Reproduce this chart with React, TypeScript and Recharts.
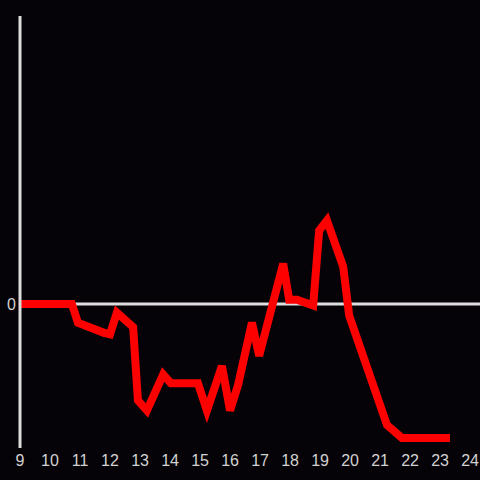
import { LineChart, Line, XAxis, YAxis, ReferenceLine } from "recharts"

// hour of day and the series value
const hours = [
  9.0, 10.73, 10.93, 11.8, 12.0, 12.23, 12.77, 12.93, 13.23, 13.77, 14.03, 14.93, 15.23, 15.73, 16.0,
  16.27, 16.73, 16.97, 17.77, 17.97, 18.23, 18.77, 18.97, 19.23, 19.77, 19.97, 21.23, 21.73, 23.33,
]
const values = [
  0, 0, -13, -20, -21, -6, -16, -67, -74, -49, -55, -55, -74, -43, -74,
  -56, -13, -36, 28, 3, 3, -1, 51, 58, 26, -8, -84, -93, -93,
]
const xTicks = [9, 10, 11, 12, 13, 14, 15, 16, 17, 18, 19, 20, 21, 22, 23, 24]
const yTicks = [0]

const data = hours.map((h, i) => ({ hour: h, value: values[i] }))

const axisColor = "#dedede"
const labelColor = "#d2d2d2"

export default function App() {
  return (
    <div style={{ position: "absolute", left: 0, top: 0, width: 480, height: 480, background: "#050307" }}>
      <LineChart width={480} height={480} data={data} margin={{ top: 16, right: 0, bottom: 0, left: 0 }}>
        <XAxis
          dataKey="hour"
          type="number"
          domain={[9, 24.33]}
          ticks={xTicks}
          allowDataOverflow
          axisLine={false}
          tickLine={false}
          tickMargin={1}
          height={32}
          fontSize={16}
          fontFamily="Liberation Sans"
          tick={{ fill: labelColor }}
        />
        <YAxis
          type="number"
          domain={[-100, 200]}
          ticks={yTicks}
          width={20}
          tickLine={false}
          tickSize={2}
          tickMargin={2}
          fontSize={16}
          fontFamily="Liberation Sans"
          axisLine={{ stroke: axisColor, strokeWidth: 3 }}
          tick={{ fill: labelColor }}
        />
        <ReferenceLine y={0} stroke={axisColor} strokeWidth={3} />
        <Line
          dataKey="value"
          type="linear"
          stroke="#ff0000"
          strokeWidth={8}
          dot={false}
          isAnimationActive={false}
        />
      </LineChart>
    </div>
  )
}
